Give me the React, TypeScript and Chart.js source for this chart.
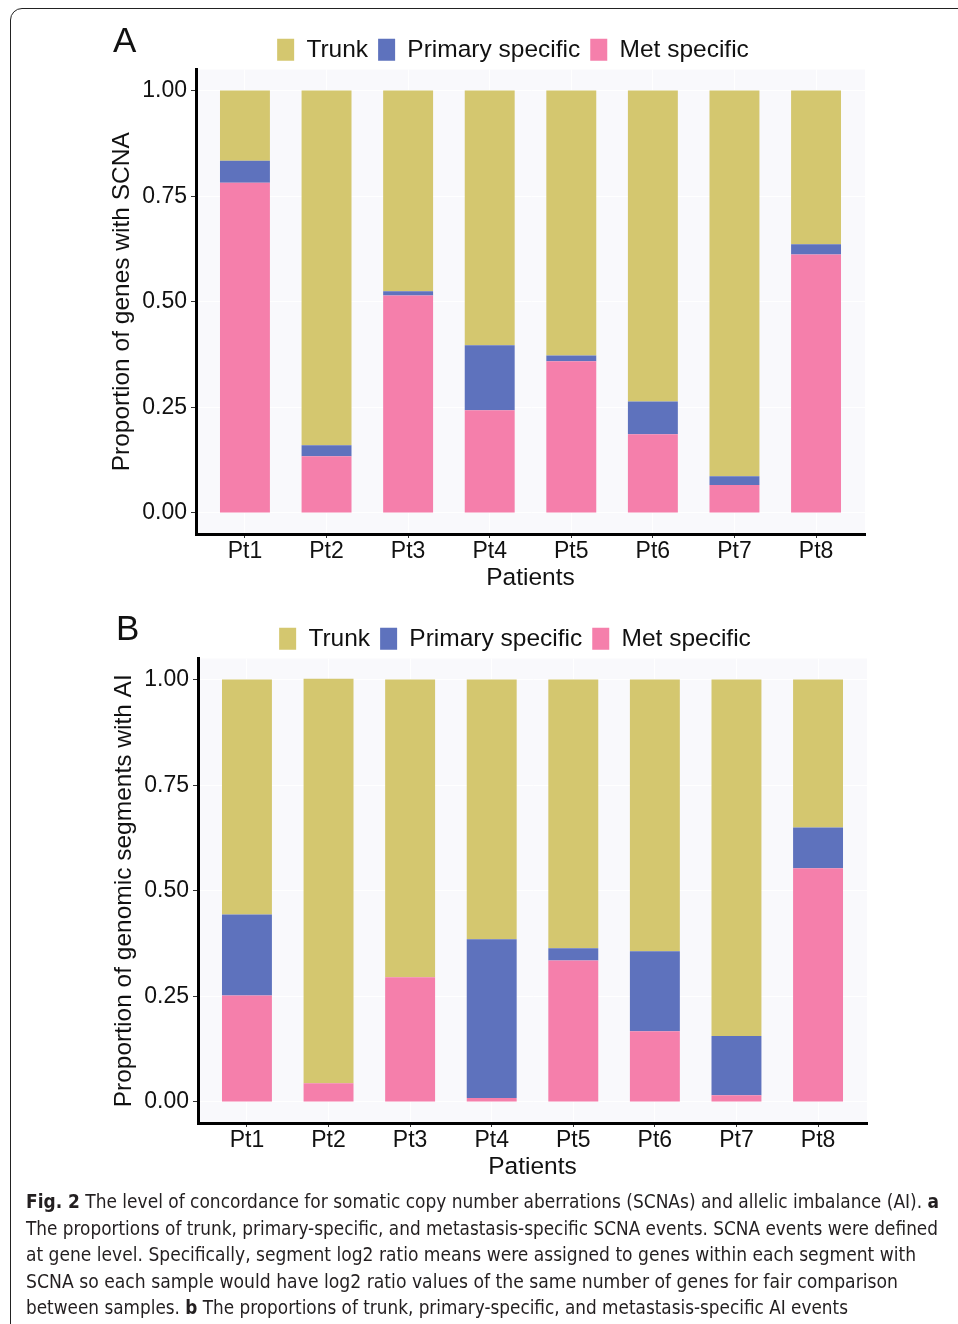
import React, { useEffect, useLayoutEffect, useRef } from "react";
import { Chart, registerables } from "chart.js";

Chart.register(...registerables);

// ---------- data ----------
const categories = ["Pt1", "Pt2", "Pt3", "Pt4", "Pt5", "Pt6", "Pt7", "Pt8"];
const seriesNames = ["Met specific", "Primary specific", "Trunk"];
const seriesColors = ["#F57FAB", "#5E72BD", "#D4C76F"];

// Panel A: proportion of genes with SCNA
const aMet = [0.782, 0.134, 0.515, 0.243, 0.359, 0.186, 0.066, 0.612];
const aPrimary = [0.052, 0.026, 0.01, 0.154, 0.014, 0.078, 0.021, 0.024];
const aTrunk = [0.166, 0.84, 0.475, 0.603, 0.627, 0.736, 0.913, 0.364];

// Panel B: proportion of genomic segments with AI
const bMet = [0.252, 0.044, 0.295, 0.009, 0.335, 0.167, 0.016, 0.553];
const bPrimary = [0.192, 0.0, 0.0, 0.376, 0.029, 0.19, 0.14, 0.097];
const bTrunk = [0.556, 0.958, 0.705, 0.615, 0.636, 0.643, 0.844, 0.35];

const yTickValues = [0, 0.25, 0.5, 0.75, 1];
const yTickLabels = ["0.00", "0.25", "0.50", "0.75", "1.00"];
const xTitle = "Patients";
const aYTitle = "Proportion of genes with SCNA";
const bYTitle = "Proportion of genomic segments with AI";

const captionLines = [
  [
    { t: "Fig. 2", b: true },
    { t: " The level of concordance for somatic copy number aberrations (SCNAs) and allelic imbalance (AI). " },
    { t: "a", b: true },
  ],
  [{ t: "The proportions of trunk, primary-specific, and metastasis-specific SCNA events. SCNA events were defined" }],
  [{ t: "at gene level. Specifically, segment log2 ratio means were assigned to genes within each segment with" }],
  [{ t: "SCNA so each sample would have log2 ratio values of the same number of genes for fair comparison" }],
  [
    { t: "between samples. " },
    { t: "b", b: true },
    { t: " The proportions of trunk, primary-specific, and metastasis-specific AI events" },
  ],
];
const captionWidths = [913, 912, 890, 872, 822];

// ---------- chart ----------
const FONT = "'Liberation Sans', Arial, Helvetica, sans-serif";
const TEXT = "#111111";

const panelBg = {
  id: "panelBg",
  beforeDraw(chart: any, _args: any, opts: any) {
    const { ctx, chartArea: a } = chart;
    ctx.save();
    ctx.fillStyle = opts.color || "#F9F9FC";
    ctx.fillRect(a.left, a.top, a.right - a.left, a.bottom - a.top);
    ctx.restore();
  },
};

const legendShift = {
  id: "legendShift",
  afterLayout(chart: any, _args: any, opts: any) {
    const lg = chart.legend;
    if (lg && opts.dy) {
      lg.top += opts.dy;
      lg.bottom += opts.dy;
    }
  },
};

function BarPanel(props: {
  met: number[];
  primary: number[];
  trunk: number[];
  yTitle: string;
  top: number;
  left: number;
}) {
  const ref = useRef<HTMLCanvasElement | null>(null);
  useEffect(() => {
    if (!ref.current) return;
    const series = [props.met, props.primary, props.trunk];
    const chart = new Chart(ref.current, {
      type: "bar",
      data: {
        datasets: series.map((vals, k) => ({
          label: seriesNames[k],
          data: categories.map((_, i) => ({ x: i + 1, y: vals[i] })),
          backgroundColor: seriesColors[k],
          borderWidth: 0,
          barPercentage: 0.612,
          categoryPercentage: 1,
        })),
      },
      options: {
        responsive: false,
        animation: false,
        events: [],
        layout: { padding: { left: 104, right: 36, top: 25, bottom: 5 } },
        plugins: {
          legend: {
            display: true,
            position: "top",
            reverse: true,
            labels: {
              boxWidth: 17,
              boxHeight: 22,
              padding: 10,
              color: TEXT,
              font: { size: 24.5, family: FONT },
            },
          },
          tooltip: { enabled: false },
          panelBg: { color: "#F9F9FC" },
          legendShift: { dy: 2.5 },
        } as any,
        scales: {
          x: {
            type: "linear",
            min: 0.4,
            max: 8.6,
            offset: false,
            stacked: true,
            afterBuildTicks: (s: any) => {
              s.ticks = categories.map((_, i) => ({ value: i + 1 }));
            },
            afterFit: (s: any) => {
              s.height = 61;
            },
            ticks: {
              callback: (v: any) => categories[Number(v) - 1],
              font: { size: 23, family: FONT },
              color: TEXT,
              padding: 0,
              maxRotation: 0,
              autoSkip: false,
            },
            grid: { offset: false, color: "#FFFFFF", tickColor: "#333333", tickLength: 4, lineWidth: 1 },
            border: { display: true, color: "#000000", width: 3 },
            title: {
              display: true,
              text: xTitle,
              color: TEXT,
              font: { size: 24.5, family: FONT },
              padding: { top: 0, bottom: 2.3 },
            },
          },
          y: {
            type: "linear",
            min: -0.05,
            max: 1.05,
            stacked: true,
            afterBuildTicks: (s: any) => {
              s.ticks = yTickValues.map((v) => ({ value: v }));
            },
            afterFit: (s: any) => {
              s.width = 92;
            },
            ticks: {
              callback: (v: any) => yTickLabels[yTickValues.indexOf(Number(v))],
              font: { size: 23, family: FONT },
              color: TEXT,
              padding: 4,
            },
            grid: { color: "#FFFFFF", tickColor: "#333333", tickLength: 5, lineWidth: 1 },
            border: { display: true, color: "#000000", width: 3 },
            title: {
              display: true,
              text: props.yTitle,
              color: TEXT,
              font: { size: 24.5, family: FONT },
              padding: { top: 3.3, bottom: 0 },
            },
          },
          y2: {
            type: "linear",
            position: "right",
            display: true,
            grid: { display: false },
            border: { display: false },
            ticks: { display: false },
            afterFit: (s: any) => {
              s.width = 57;
            },
          },
        } as any,
      },
      plugins: [panelBg as any, legendShift as any],
    });
    return () => chart.destroy();
  }, []);
  return (
    <canvas
      ref={ref}
      width={958}
      height={600}
      style={{ position: "absolute", left: props.left, top: props.top, width: 958, height: 600 }}
    />
  );
}

function Caption() {
  const refs = useRef<(HTMLDivElement | null)[]>([]);
  useLayoutEffect(() => {
    refs.current.forEach((el, i) => {
      if (!el) return;
      el.style.transform = "none";
      const w = el.getBoundingClientRect().width;
      if (w > 0) el.style.transform = `scaleX(${captionWidths[i] / w})`;
    });
  }, []);
  return (
    <>
      {captionLines.map((parts, i) => (
        <div
          key={i}
          ref={(el) => {
            refs.current[i] = el;
          }}
          style={{
            position: "absolute",
            left: 26,
            top: 1188 + i * 26.5,
            height: 26.5,
            lineHeight: "26.5px",
            fontSize: 20,
            fontFamily: "'Liberation Sans Narrow', 'DejaVu Sans Condensed', 'Roboto', sans-serif",
            color: "#231F20",
            whiteSpace: "nowrap",
            display: "inline-block",
            transformOrigin: "0 50%",
          }}
        >
          {parts.map((p, j) => (
            <span key={j} style={{ fontWeight: (p as any).b ? 700 : 400 }}>
              {p.t}
            </span>
          ))}
        </div>
      ))}
    </>
  );
}

export default function App() {
  const letter: React.CSSProperties = {
    position: "absolute",
    fontFamily: FONT,
    fontSize: 35,
    lineHeight: "35px",
    color: TEXT,
  };
  return (
    <div
      style={{
        position: "absolute",
        left: 0,
        top: 0,
        width: 958,
        height: 1324,
        overflow: "hidden",
        background: "#FFFFFF",
      }}
    >
      <div
        style={{
          position: "absolute",
          left: 10,
          top: 8,
          width: 1200,
          height: 1600,
          border: "1.5px solid #222222",
          borderTopLeftRadius: 12,
          boxSizing: "border-box",
        }}
      />
      <BarPanel met={aMet} primary={aPrimary} trunk={aTrunk} yTitle={aYTitle} top={0} left={0} />
      <BarPanel met={bMet} primary={bPrimary} trunk={bTrunk} yTitle={bYTitle} top={589} left={2} />
      <div style={{ ...letter, left: 113, top: 22 }}>A</div>
      <div style={{ ...letter, left: 116, top: 610 }}>B</div>
      <Caption />
    </div>
  );
}
